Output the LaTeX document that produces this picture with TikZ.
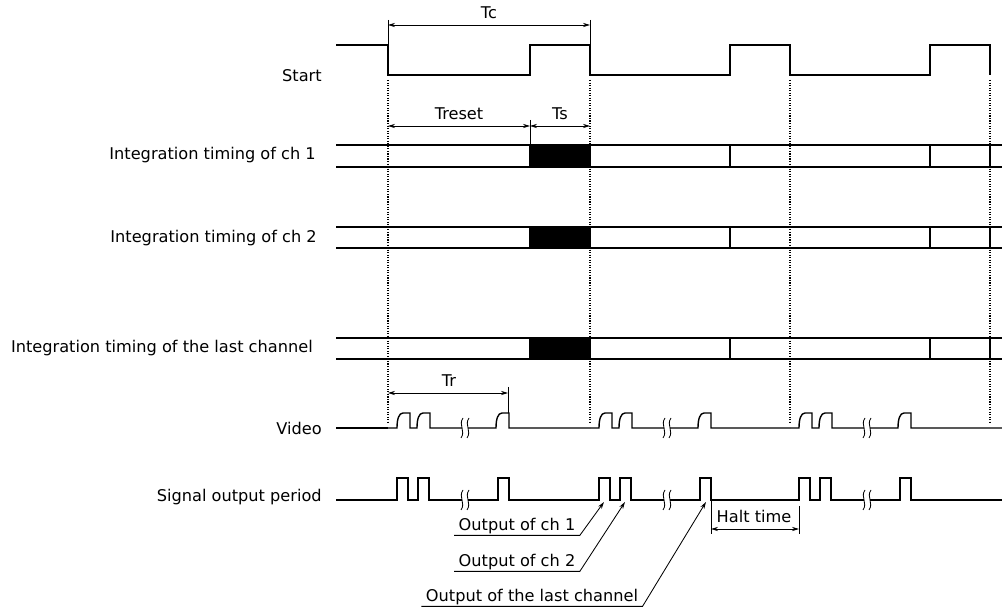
\documentclass[tikz,border=0pt]{standalone}
\usepackage{fontspec}
\setmainfont{DejaVu Sans}
\usetikzlibrary{arrows.meta}
\tikzset{
  sig/.style={line width=1pt},
  dim/.style={line width=0.6pt},
  guide/.style={line width=0.8pt, dash pattern=on 0.8pt off 1pt},
  lbl/.style={anchor=east, inner sep=0pt, text height=8.5pt, text depth=2pt},
  outlbl/.style={inner xsep=3pt, inner ysep=1pt, text height=8.5pt, text depth=2.5pt},
  % bump of the video signal, baseline y=428
  vbump/.style={insert path={-- (#1,428) .. controls +(0,-9) and +(-4,0) .. (#1+6,413) -- (#1+13,413) -- (#1+13,428)}},
  % pulse of the output signal, baseline y=500
  pulse/.style={insert path={-- (#1,500) -- (#1,478) -- (#1+11,478) -- (#1+11,500)}},
}
% break mark: x, baseline y
\newcommand\sigbreak[2]{%
  \draw[dim] (#1-2,#2-10) .. controls (#1-7,#2-3) and (#1+1,#2+3) .. (#1-4,#2+10);
  \draw[dim] (#1+4,#2-10) .. controls (#1-1,#2-3) and (#1+7,#2+3) .. (#1+2,#2+10);
}

\begin{document}
\begin{tikzpicture}[x=0.025cm, y=-0.025cm, font=\fontsize{11.5}{13}\selectfont, line join=miter, >={Stealth[length=5pt,width=3pt]}]
\useasboundingbox (0,0) rectangle (1002,615);
% Nhan ben trai
\node[lbl] (start) at (322,77) {Start};
\node[lbl] (ch1) at (316,155) {Integration timing of ch 1};
\node[lbl] (ch2) at (317,238) {Integration timing of ch 2};
\node[lbl] (chn) at (313,348) {Integration timing of the last channel};
\node[lbl] (video) at (322,430) {Video};
\node[lbl] (sop) at (322,497) {Signal output period};
% Tin hieu Start
\draw[sig] (336,45) -- (388,45) -- (388,75) -- (530,75) -- (530,45) -- (590,45) -- (590,75)
  -- (730,75) -- (730,45) -- (790,45) -- (790,75) -- (930,75) -- (930,45) -- (990,45) -- (990,75);
% Duong cham dung
\foreach \x in {388,590,790,990} \draw[guide] (\x,80) -- (\x,424);
% Cac kenh tich phan
\foreach \t/\b in {145/167, 227/248, 338/359} {
  \fill (530,\t) rectangle (590,\b);
  \draw[sig] (336,\t) -- (1002,\t) (336,\b) -- (1002,\b);
  \foreach \x in {530,590,730,930,990} \draw[sig] (\x,\t) -- (\x,\b);
}
% Video
\draw[sig] (336,428) -- (388,428);
\foreach \c/\n in {388/590, 590/790, 790/1002} {
  \draw[sig] (\c,428) [vbump=\c+9] [vbump=\c+29] -- (\c+74,428);
  \draw[sig] (\c+80,428) [vbump=\c+108] -- (\n,428);
  \sigbreak{\c+77}{428}
}
% Signal output period
\draw[sig] (336,500) -- (388,500);
\foreach \c/\n in {388/590, 590/790, 790/1002} {
  \draw[sig] (\c,500) [pulse=\c+9] [pulse=\c+30] -- (\c+74,500);
  \draw[sig] (\c+80,500) [pulse=\c+110] -- (\n,500);
  \sigbreak{\c+77}{500}
}
% Kich thuoc Tc
\coordinate (tcl) at (388,25);
\coordinate (tcr) at (590,25);
\draw[dim] (388,20) -- (388,45) (590,20) -- (590,45);
\draw[dim,<->] (tcl) -- (tcr);
\node (tc) at (489,13) {Tc};
% Treset va Ts
\coordinate (rl) at (388,126);
\coordinate (rm) at (530,126);
\coordinate (rr) at (590,126);
\draw[dim] (530,120) -- (530,145);
\draw[dim,<->] (rl) -- (rm);
\draw[dim,<->] (rm) -- (rr);
\node (treset) at (459,114) {Treset};
\node (ts) at (560,114) {Ts};
% Tr
\coordinate (trl) at (388,393);
\coordinate (trr) at (508,393);
\draw[dim] (508,387) -- (508,413);
\draw[dim,<->] (trl) -- (trr);
\node (tr) at (449,381) {Tr};
% Halt time
\coordinate (hl) at (711,529);
\coordinate (hr) at (799,529);
\draw[dim] (711,500) -- (711,534) (799,506) -- (799,534);
\draw[dim,<->] (hl) -- (hr);
\node (halt) at (754,516) {Halt time};
% Chu thich dau ra
\coordinate (p1) at (604,502);
\coordinate (p2) at (625,502);
\coordinate (pn) at (706,502);
\node[outlbl] (o1) at (517,526) {Output of ch 1};
\node[outlbl] (o2) at (517,562) {Output of ch 2};
\node[outlbl] (on) at (532,597) {Output of the last channel};
\draw[dim,->] (o1.south west) -- (o1.south east) -- (p1);
\draw[dim,->] (o2.south west) -- (o2.south east) -- (p2);
\draw[dim,->] (on.south west) -- (on.south east) -- (pn);
\end{tikzpicture}
\end{document}
